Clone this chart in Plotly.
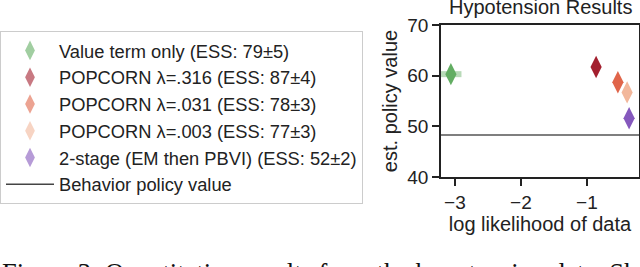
import plotly.graph_objects as go

# Data
methods = ["Value term only (ESS: 79±5)", "POPCORN λ=.316 (ESS: 87±4)",
           "POPCORN λ=.031 (ESS: 78±3)", "POPCORN λ=.003 (ESS: 77±3)",
           "2-stage (EM then PBVI) (ESS: 52±2)"]
log_lik = [-3.06, -0.86, -0.53, -0.39, -0.36]
log_lik_err = [0.16, 0.0, 0.0, 0.0, 0.0]
policy_value = [60.3, 61.7, 58.7, 56.7, 51.6]
colors = ["#62ad62", "#a31f2e", "#e0654a", "#f2b79b", "#8558bd"]
legend_colors = ["rgba(98,173,98,0.6)", "rgba(163,31,46,0.6)", "rgba(224,101,74,0.6)",
                 "rgba(242,183,155,0.6)", "rgba(133,88,189,0.6)"]
err_colors = ["rgba(98,173,98,0.45)"] * 5
behavior_value = 48.3
x_range = [-3.21, -0.21]
y_range = [40, 70]
x_ticks = [-3, -2, -1]
y_ticks = [40, 50, 60, 70]

W, H = 640, 267
L, R, T, B = 441, 639, 25, 177

fig = go.Figure()

# behavior line
fig.add_trace(go.Scatter(x=x_range, y=[behavior_value, behavior_value], mode="lines",
                         line=dict(color="#555555", width=1.5), showlegend=False,
                         hoverinfo="skip"))

for i, m in enumerate(methods):
    fig.add_trace(go.Scatter(
        x=[log_lik[i]], y=[policy_value[i]], mode="markers",
        marker=dict(symbol="diamond-tall", size=16, color=colors[i], line=dict(width=0)),
        error_x=dict(type="data", array=[log_lik_err[i]], thickness=6, width=0,
                     color=err_colors[i], visible=log_lik_err[i] > 0),
        showlegend=False))

# legend entries
for i, m in enumerate(methods):
    fig.add_trace(go.Scatter(
        x=[None], y=[None], mode="markers", name=m,
        marker=dict(symbol="diamond-tall", size=14, color=legend_colors[i], line=dict(width=0))))
fig.add_trace(go.Scatter(x=[None], y=[None], mode="lines", name="Behavior policy value",
                         line=dict(color="#444444", width=1.5)))

font = "Liberation Sans, Arial, sans-serif"
fig.update_layout(
    width=W, height=H,
    margin=dict(l=0, r=0, t=0, b=0, autoexpand=False),
    paper_bgcolor="white", plot_bgcolor="white",
    font=dict(family=font, size=19, color="#222222"),
    showlegend=True,
    legend=dict(x=0, y=1 - 31 / H, xanchor="left", yanchor="top",
                bordercolor="#cccccc", borderwidth=1, bgcolor="white",
                font=dict(size=18.3, color="#222222"), tracegroupgap=0,
                itemwidth=48),
    xaxis=dict(domain=[L / W, R / W], range=x_range, tickvals=x_ticks,
               ticktext=["\u22123", "\u22122", "\u22121"], automargin=False,
               showgrid=False, zeroline=False, showline=True, linecolor="#222222",
               linewidth=1.5, mirror=True, ticks="outside", ticklen=7, tickwidth=1.5,
               tickcolor="#222222", tickfont=dict(size=19),
               title=dict(text="log likelihood of data", standoff=4, font=dict(size=20))),
    yaxis=dict(domain=[1 - B / H, 1 - T / H], range=y_range, tickvals=y_ticks,
               automargin=False,
               showgrid=False, zeroline=False, showline=True, linecolor="#222222",
               linewidth=1.5, mirror=True, ticks="outside", ticklen=7, tickwidth=1.5,
               tickcolor="#222222", tickfont=dict(size=19),
               title=dict(text="est. policy value", standoff=4, font=dict(size=20))),
    annotations=[
        dict(text="Hypotension Results", x=(L + R) / 2 / W, y=1 - 20 / H,
             xref="paper", yref="paper", xanchor="center", yanchor="bottom",
             showarrow=False, font=dict(size=20, color="#222222")),
        dict(text="Figure 3: Quantitative results from the hypotension data. Shown are results",
             x=0, y=1 - 256 / H, xref="paper", yref="paper", xanchor="left",
             yanchor="top", showarrow=False,
             font=dict(family="Liberation Serif, Times New Roman, serif", size=26.5,
                       color="#111111")),
    ],
)

fig.write_html("out.html",
               config={"displayModeBar": False},
               post_script="document.body.style.margin='0px';"
                           "document.body.style.overflow='hidden';")
